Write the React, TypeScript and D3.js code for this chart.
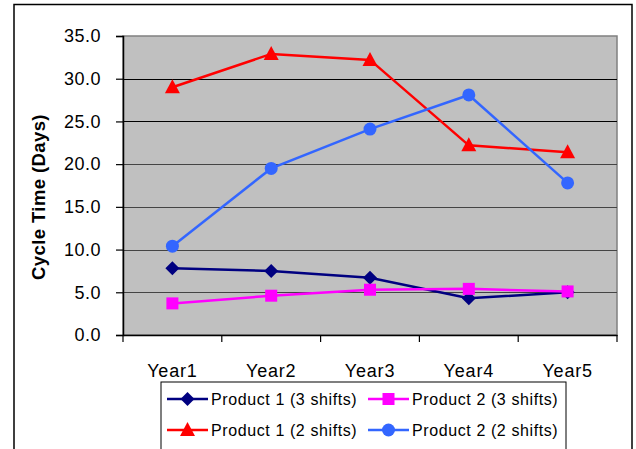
import React, { useEffect, useRef } from 'react';
import * as d3 from 'd3';

const years = ['Year1', 'Year2', 'Year3', 'Year4', 'Year5'];
const yTicks = [0, 5, 10, 15, 20, 25, 30, 35];

const p1Three = [7.8, 7.5, 6.7, 4.3, 5.0];
const p2Three = [3.7, 4.6, 5.3, 5.4, 5.1];
const p1Two = [29.0, 32.9, 32.2, 22.2, 21.4];
const p2Two = [10.4, 19.5, 24.1, 28.1, 17.8];

const seriesNames = ['Product 1 (3 shifts)', 'Product 2 (3 shifts)', 'Product 1 (2 shifts)', 'Product 2 (2 shifts)'];
const seriesColors = ['#000080', '#FF00FF', '#FF0000', '#3366FF'];
const seriesMarkers = ['diamond', 'square', 'triangle', 'circle'];

const W = 636, H = 449;
const FONT = '"Liberation Sans", Arial, sans-serif';

const App = () => {
  const ref = useRef(null);

  useEffect(() => {
    const svg = d3.select(ref.current);
    svg.selectAll('*').remove();

    const plot = { left: 123, right: 617, top: 36, bottom: 335 };

    const x = d3.scaleBand().domain(years).range([plot.left, plot.right]);
    const y = d3.scaleLinear().domain([0, 35]).range([plot.bottom, plot.top]);

    // outer chart frame
    svg.append('rect')
      .attr('x', 14).attr('y', 4.5).attr('width', 618).attr('height', 460)
      .attr('fill', '#fff').attr('stroke', '#000').attr('stroke-width', 1.5);

    // plot area
    svg.append('rect')
      .attr('x', plot.left).attr('y', plot.top)
      .attr('width', plot.right - plot.left).attr('height', plot.bottom - plot.top)
      .attr('fill', '#C0C0C0').attr('stroke', '#808080').attr('stroke-width', 1.5);

    // gridlines
    svg.append('g').selectAll('line')
      .data(yTicks.filter(t => t > 0 && t < 35))
      .enter().append('line')
      .attr('x1', plot.left).attr('x2', plot.right)
      .attr('y1', d => Math.round(y(d)) + 0.5).attr('y2', d => Math.round(y(d)) + 0.5)
      .attr('stroke', d => (d >= 25 ? '#000' : '#444')).attr('stroke-width', 1);

    // y axis
    const yAxis = svg.append('g')
      .attr('transform', `translate(${plot.left},0)`)
      .call(d3.axisLeft(y).tickValues(yTicks).tickFormat(d3.format('.1f')).tickSize(7).tickPadding(15));
    yAxis.select('.domain').attr('stroke', '#000').attr('stroke-width', 1.5);
    yAxis.selectAll('.tick line').attr('stroke', '#000').attr('stroke-width', 1.2);
    yAxis.selectAll('.tick text')
      .attr('font-family', FONT).attr('font-size', 18).attr('fill', '#000')
      .attr('letter-spacing', 0.5);

    // x axis
    const xAxis = svg.append('g')
      .attr('transform', `translate(0,${plot.bottom})`)
      .call(d3.axisBottom(x).tickSize(0).tickPadding(29).tickSizeOuter(0));
    xAxis.select('.domain').attr('stroke', '#000').attr('stroke-width', 1.5);
    xAxis.selectAll('.tick text')
      .attr('font-family', FONT).attr('font-size', 18).attr('fill', '#000')
      .attr('letter-spacing', 0.8);
    // tick marks between categories
    const edges = years.map(d => x(d)).concat([plot.right]);
    xAxis.selectAll('.edge')
      .data(edges)
      .enter().append('line')
      .attr('x1', d => d).attr('x2', d => d)
      .attr('y1', 0).attr('y2', 7)
      .attr('stroke', '#000').attr('stroke-width', 1.2);

    // y axis title
    svg.append('text')
      .attr('transform', `translate(45,197) rotate(-90)`)
      .attr('text-anchor', 'middle')
      .attr('font-family', FONT).attr('font-size', 18.5).attr('font-weight', 'bold')
      .attr('letter-spacing', 0.4)
      .text('Cycle Time (Days)');

    const marker = (g, type, color, cx, cy) => {
      if (type === 'diamond') {
        g.append('path').attr('d', `M${cx},${cy - 7}L${cx + 7},${cy}L${cx},${cy + 7}L${cx - 7},${cy}Z`).attr('fill', color);
      } else if (type === 'square') {
        g.append('rect').attr('x', cx - 6).attr('y', cy - 6).attr('width', 12).attr('height', 12).attr('fill', color);
      } else if (type === 'triangle') {
        g.append('path').attr('d', `M${cx},${cy - 8}L${cx + 7.5},${cy + 6}L${cx - 7.5},${cy + 6}Z`).attr('fill', color);
      } else {
        g.append('circle').attr('cx', cx).attr('cy', cy).attr('r', 6.5).attr('fill', color);
      }
    };

    const line = d3.line().x(d => x(d[0]) + x.bandwidth() / 2).y(d => y(d[1]));
    const allSeries = [p1Three, p2Three, p1Two, p2Two];
    allSeries.forEach((vals, i) => {
      const pts = years.map((yr, j) => [yr, vals[j]]);
      const g = svg.append('g');
      g.append('path').datum(pts)
        .attr('d', line).attr('fill', 'none')
        .attr('stroke', seriesColors[i]).attr('stroke-width', 2.5);
      pts.forEach(p => marker(g, seriesMarkers[i], seriesColors[i], x(p[0]) + x.bandwidth() / 2, y(p[1])));
    });

    // legend
    const legend = svg.append('g');
    legend.append('rect')
      .attr('x', 161).attr('y', 382).attr('width', 405).attr('height', 68)
      .attr('fill', '#fff').attr('stroke', '#000').attr('stroke-width', 1);
    const legendPos = [[167, 399], [368, 399], [167, 430], [368, 430]];
    seriesNames.forEach((name, i) => {
      const [lx, ly] = legendPos[i];
      legend.append('line')
        .attr('x1', lx).attr('x2', lx + 41).attr('y1', ly).attr('y2', ly)
        .attr('stroke', seriesColors[i]).attr('stroke-width', 2.5);
      marker(legend, seriesMarkers[i], seriesColors[i], lx + 20.5, ly);
      legend.append('text')
        .attr('x', lx + 44).attr('y', ly + 6)
        .attr('font-family', FONT).attr('font-size', 16).attr('letter-spacing', 0.6)
        .text(name);
    });
  }, []);

  return (
    <svg ref={ref} width={W} height={H}
      style={{ position: 'absolute', left: 0, top: 0, background: '#fff' }} />
  );
};

export default App;
